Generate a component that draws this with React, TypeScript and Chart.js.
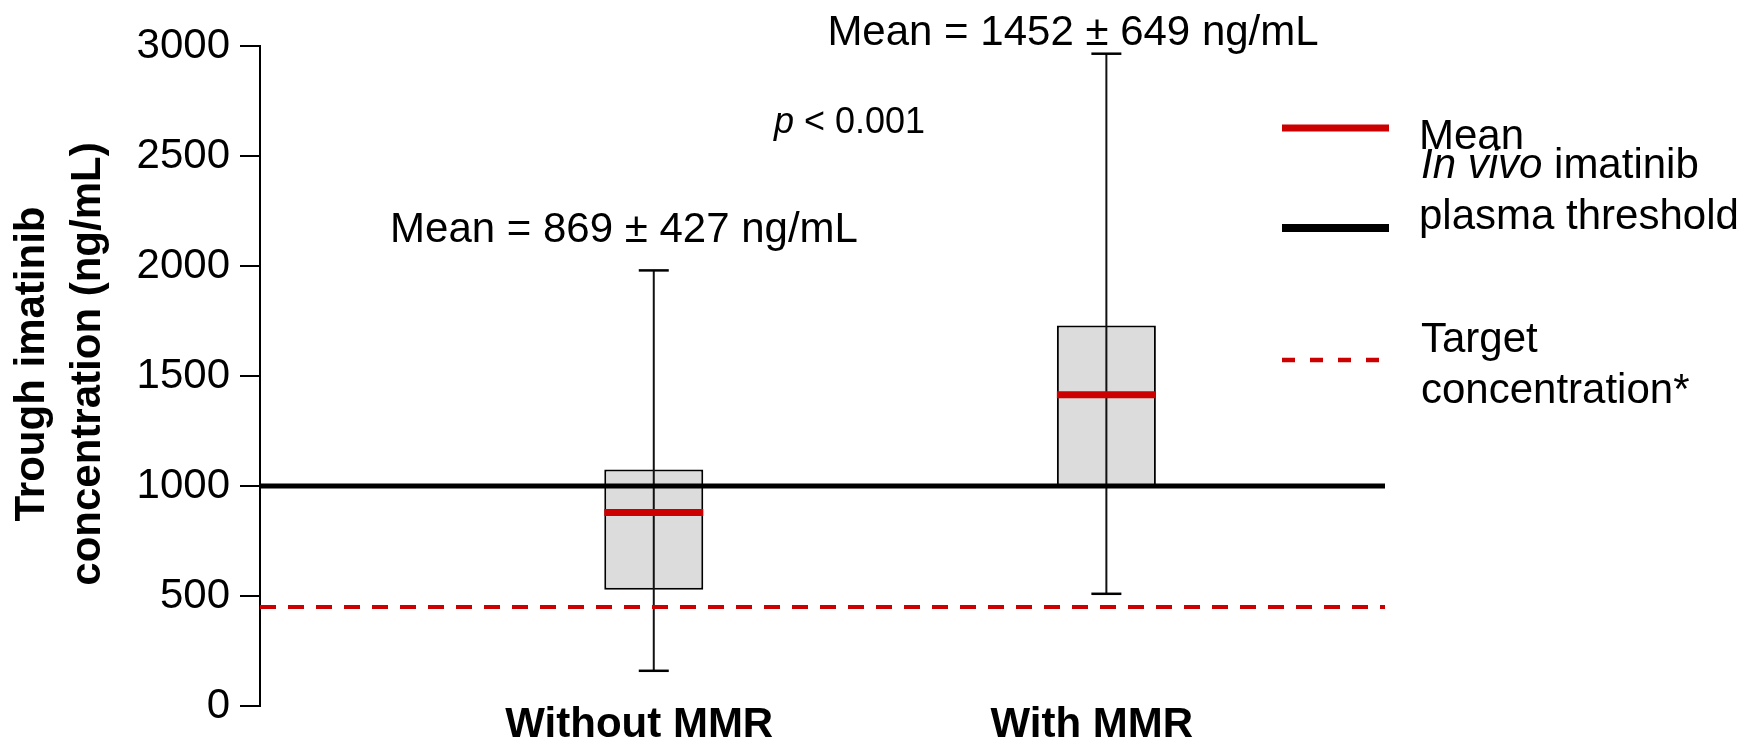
import React, { useEffect, useRef } from 'react';
import { Chart, registerables } from 'chart.js';

Chart.register(...registerables);

const FONT = '"Liberation Sans", Arial, Helvetica, sans-serif';

// ---- data ----
const CATEGORIES = ['Without MMR', 'With MMR'];
const X_POSITIONS = [1, 2];
const X_MIN = 0.13;
const X_MAX = 2.6156;
const BOX_LOW = [528, 1000];
const BOX_HIGH = [1075, 1730];
const MEAN_LINE = [880, 1415];
const WHISKER_LOW = [160, 510];
const WHISKER_HIGH = [1980, 2965];
const THRESHOLD = 1000;
const TARGET = 450;
const Y_TICKS = [0, 500, 1000, 1500, 2000, 2500, 3000];
const ANNOTATIONS = ['Mean = 869 ± 427 ng/mL', 'Mean = 1452 ± 649 ng/mL'];
const P_LETTER = 'p';
const P_VALUE = ' < 0.001';
const Y_TITLE = ['Trough imatinib', 'concentration (ng/mL)'];
const LEGEND_MEAN = 'Mean';
const LEGEND_THRESHOLD = ['In vivo', ' imatinib', 'plasma threshold'];
const LEGEND_TARGET = ['Target', 'concentration*'];

const RED = '#CC0000';

const overlayPlugin = {
  id: 'overlay',
  afterDraw(chart: any) {
    const ctx: CanvasRenderingContext2D = chart.ctx;
    ctx.save();
    ctx.fillStyle = '#000';
    ctx.textBaseline = 'alphabetic';

    // y axis title
    ctx.save();
    ctx.translate(44, 364);
    ctx.rotate(-Math.PI / 2);
    ctx.font = `bold 42px ${FONT}`;
    ctx.textAlign = 'center';
    ctx.fillText(Y_TITLE[0], 0, 0);
    ctx.fillText(Y_TITLE[1], 0, 56);
    ctx.restore();

    // annotations
    ctx.font = `42px ${FONT}`;
    ctx.textAlign = 'center';
    ctx.fillText(ANNOTATIONS[0], 624, 242);
    ctx.fillText(ANNOTATIONS[1], 1073, 45);

    // p value
    ctx.textAlign = 'left';
    ctx.font = `italic 36px ${FONT}`;
    ctx.fillText(P_LETTER, 774, 133);
    const pw = ctx.measureText(P_LETTER).width;
    ctx.font = `36px ${FONT}`;
    ctx.fillText(P_VALUE, 774 + pw, 133);

    // legend
    const lx0 = 1282;
    const lx1 = 1389;
    const tx = 1419;
    ctx.lineCap = 'butt';
    ctx.strokeStyle = RED;
    ctx.lineWidth = 7;
    ctx.beginPath();
    ctx.moveTo(lx0, 128);
    ctx.lineTo(lx1, 128);
    ctx.stroke();

    ctx.strokeStyle = '#000';
    ctx.lineWidth = 8;
    ctx.beginPath();
    ctx.moveTo(lx0, 228);
    ctx.lineTo(lx1, 228);
    ctx.stroke();

    ctx.strokeStyle = RED;
    ctx.lineWidth = 4.5;
    ctx.setLineDash([13, 15]);
    ctx.beginPath();
    ctx.moveTo(lx0, 360);
    ctx.lineTo(1382, 360);
    ctx.stroke();
    ctx.setLineDash([]);

    ctx.font = `42px ${FONT}`;
    ctx.fillText(LEGEND_MEAN, tx, 149);
    ctx.font = `italic 42px ${FONT}`;
    ctx.fillText(LEGEND_THRESHOLD[0], tx + 2, 178);
    const iw = ctx.measureText(LEGEND_THRESHOLD[0]).width;
    ctx.font = `42px ${FONT}`;
    ctx.fillText(LEGEND_THRESHOLD[1], tx + 2 + iw, 178);
    ctx.fillText(LEGEND_THRESHOLD[2], tx, 229);
    ctx.fillText(LEGEND_TARGET[0], tx + 2, 352);
    ctx.fillText(LEGEND_TARGET[1], tx + 2, 403);

    ctx.restore();
  },
};

export default function App() {
  const ref = useRef<HTMLCanvasElement>(null);

  useEffect(() => {
    const canvas = ref.current;
    if (!canvas) return;

    const chart = new Chart(canvas, {
      type: 'bar',
      data: {
        datasets: [
          {
            type: 'bar',
            label: 'Box',
            data: X_POSITIONS.map((x, i) => ({ x, y: [BOX_LOW[i], BOX_HIGH[i]] })) as any,
            backgroundColor: '#DCDCDC',
            borderColor: '#000',
            borderWidth: 2,
            borderSkipped: false,
            maxBarThickness: 99,
            grouped: false,
            order: 4,
          } as any,
          {
            type: 'bar',
            label: 'Whisker',
            data: X_POSITIONS.map((x, i) => ({ x, y: [WHISKER_LOW[i], WHISKER_HIGH[i]] })) as any,
            backgroundColor: '#111',
            borderWidth: 0,
            maxBarThickness: 2,
            grouped: false,
            order: 3,
          } as any,
          {
            type: 'line',
            label: 'Caps',
            data: X_POSITIONS.flatMap((x, i) => [
              { x, y: WHISKER_LOW[i] },
              { x, y: WHISKER_HIGH[i] },
            ]),
            showLine: false,
            pointStyle: 'line',
            pointRadius: 15,
            pointBorderWidth: 2.5,
            pointBorderColor: '#000',
            borderColor: '#000',
            order: 2,
          } as any,
          {
            type: 'line',
            label: 'Threshold',
            data: [
              { x: X_MIN, y: THRESHOLD },
              { x: X_MAX, y: THRESHOLD },
            ],
            borderColor: '#000',
            borderWidth: 5,
            pointRadius: 0,
            order: 1,
          } as any,
          {
            type: 'line',
            label: 'Target',
            data: [
              { x: X_MIN, y: TARGET },
              { x: X_MAX, y: TARGET },
            ],
            borderColor: RED,
            borderWidth: 4,
            borderDash: [16, 12],
            pointRadius: 0,
            order: 1,
          } as any,
          {
            type: 'line',
            label: 'Mean',
            data: X_POSITIONS.map((x, i) => ({ x, y: MEAN_LINE[i] })),
            showLine: false,
            pointStyle: 'line',
            pointRadius: 49.5,
            pointBorderWidth: 7,
            pointBorderColor: RED,
            borderColor: RED,
            order: 0,
          } as any,
        ],
      },
      options: {
        responsive: false,
        animation: false,
        devicePixelRatio: 1,
        events: [],
        layout: { autoPadding: false, padding: { left: 0, top: 46, right: 366, bottom: 0 } },
        plugins: {
          legend: { display: false },
          tooltip: { enabled: false },
          title: { display: false },
        },
        scales: {
          x: {
            type: 'linear',
            min: X_MIN,
            max: X_MAX,
            offset: false,
            grid: { display: false, drawTicks: false, offset: false },
            border: { display: false },
            afterBuildTicks: (s: any) => {
              s.ticks = X_POSITIONS.map((v) => ({ value: v }));
            },
            afterFit: (s: any) => {
              s.height = 37;
            },
            ticks: {
              autoSkip: false,
              maxRotation: 0,
              minRotation: 0,
              padding: 0,
              labelOffset: -14.5,
              color: '#000',
              font: { family: FONT, size: 42, weight: 'bold', lineHeight: 0.93 },
              callback: (v: any) => {
                const idx = X_POSITIONS.indexOf(Number(v));
                return idx >= 0 ? CATEGORIES[idx] : '';
              },
            },
          } as any,
          y: {
            type: 'linear',
            min: Y_TICKS[0],
            max: Y_TICKS[Y_TICKS.length - 1],
            afterBuildTicks: (s: any) => {
              s.ticks = Y_TICKS.map((v) => ({ value: v }));
            },
            afterFit: (s: any) => {
              s.width = 260;
            },
            grid: {
              display: true,
              drawOnChartArea: false,
              drawTicks: true,
              tickLength: 20,
              color: '#000',
              lineWidth: 2,
            },
            border: { display: true, color: '#000', width: 2 },
            ticks: {
              padding: 10,
              color: '#000',
              font: { family: FONT, size: 42, lineHeight: 1 },
              callback: (v: any) => String(v),
            },
          } as any,
        },
      },
      plugins: [overlayPlugin],
    });

    return () => chart.destroy();
  }, []);

  return (
    <div style={{ position: 'fixed', left: 0, top: 0, width: 1751, height: 743, background: '#fff' }}>
      <canvas ref={ref} width={1751} height={743} style={{ display: 'block' }} />
    </div>
  );
}
